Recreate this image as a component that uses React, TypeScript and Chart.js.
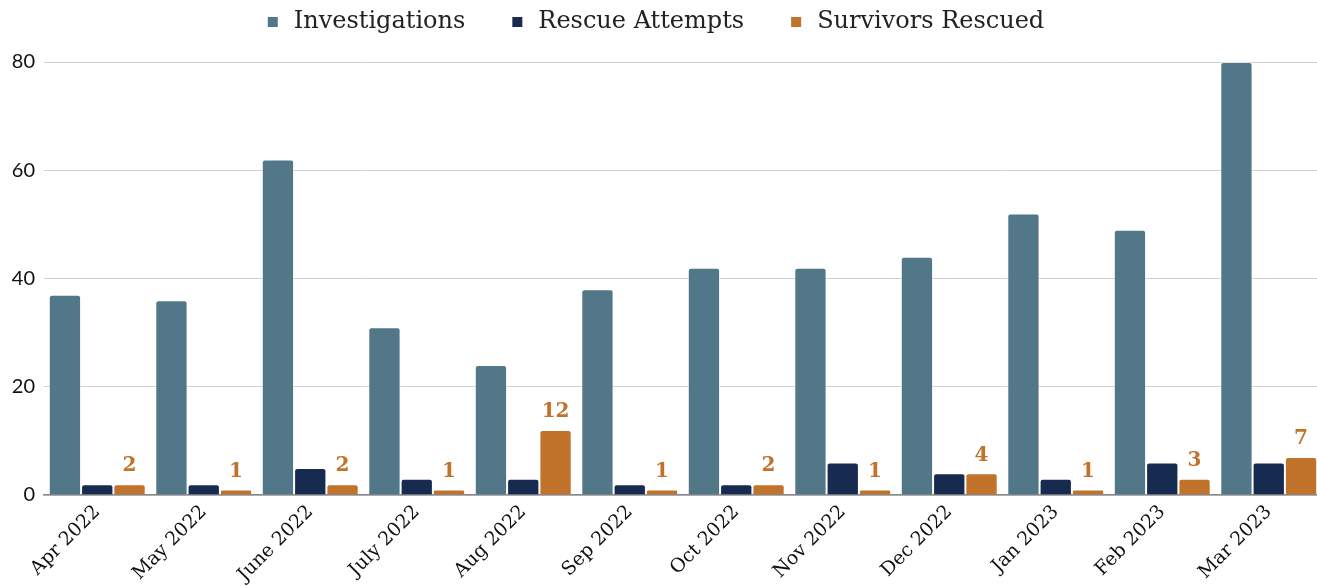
import React, { useEffect, useRef } from "react";
import { Chart, registerables } from "chart.js";
Chart.register(...registerables);

const categories = ["Apr 2022", "May 2022", "June 2022", "July 2022", "Aug 2022", "Sep 2022", "Oct 2022", "Nov 2022", "Dec 2022", "Jan 2023", "Feb 2023", "Mar 2023"];
const seriesNames = ["Investigations", "Rescue Attempts", "Survivors Rescued"];
const seriesColors = ["#527788", "#172a4f", "#c1732b"];
const investigations = [37, 36, 62, 31, 24, 38, 42, 42, 44, 52, 49, 80];
const rescueAttempts = [2, 2, 5, 3, 3, 2, 2, 6, 4, 3, 6, 6];
const survivorsRescued = [2, 1, 2, 1, 12, 1, 2, 1, 4, 1, 3, 7];
const yTicks = [0, 20, 40, 60, 80];

const SERIF = "'DejaVu Serif', serif";

const labelPlugin = {
  id: "survLabels",
  afterDatasetsDraw(chart: any) {
    const ctx = chart.ctx;
    const meta = chart.getDatasetMeta(2);
    ctx.save();
    ctx.fillStyle = "#c1732b";
    ctx.font = `bold 20px ${SERIF}`;
    ctx.textAlign = "center";
    ctx.textBaseline = "bottom";
    meta.data.forEach((el: any, i: number) => {
      ctx.fillText(String(survivorsRescued[i]), el.x, el.y - 8);
    });
    ctx.restore();
  },
};

const customLegend = {
  id: "customLegend",
  afterDraw(chart: any) {
    const ctx = chart.ctx;
    ctx.save();
    ctx.font = `24px ${SERIF}`;
    ctx.textBaseline = "middle";
    ctx.textAlign = "left";
    const box = 10, gapBox = 16, gapItem = 47;
    const widths = seriesNames.map((n) => box + gapBox + ctx.measureText(n).width);
    const total = widths.reduce((a, b) => a + b, 0) + gapItem * (seriesNames.length - 1);
    let x = 656 - total / 2;
    const y = 22;
    seriesNames.forEach((n, i) => {
      ctx.fillStyle = seriesColors[i];
      ctx.fillRect(x, y - box / 2, box, box);
      ctx.fillStyle = "#222";
      ctx.fillText(n, x + box + gapBox, y);
      x += widths[i] + gapItem;
    });
    ctx.restore();
  },
};

export default function App() {
  const ref = useRef<HTMLCanvasElement>(null);
  useEffect(() => {
    if (!ref.current) return;
    const common = { borderWidth: 1, borderColor: "rgba(255,255,255,0.5)", borderRadius: 3, borderSkipped: "bottom" as const, categoryPercentage: 0.91, barPercentage: 1 };
    const chart = new Chart(ref.current, {
      type: "bar",
      data: {
        labels: categories,
        datasets: [
          { label: seriesNames[0], data: investigations, backgroundColor: seriesColors[0], ...common },
          { label: seriesNames[1], data: rescueAttempts, backgroundColor: seriesColors[1], ...common },
          { label: seriesNames[2], data: survivorsRescued, backgroundColor: seriesColors[2], ...common },
        ],
      },
      options: {
        animation: false,
        responsive: false,
        maintainAspectRatio: false,
        layout: { padding: { top: 62, left: 0, right: 0, bottom: 0 } },
        plugins: {
          legend: { display: false },
          tooltip: { enabled: false },
        },
        scales: {
          x: {
            grid: { display: false, drawTicks: false },
            border: { display: true, color: "#888", width: 1.5 },
            ticks: { font: { family: SERIF, size: 19 }, color: "#111", maxRotation: 45, minRotation: 45, padding: 6 },
            afterFit: (axis: any) => { axis.height = 91; },
          },
          y: {
            min: 0,
            max: 80,
            afterBuildTicks: (axis: any) => { axis.ticks = yTicks.map((v) => ({ value: v })); },
            grid: { color: "#d0d0d0", drawTicks: false },
            border: { display: false },
            ticks: { font: { family: "Lato", size: 20 }, color: "#111", padding: 9 },
            afterFit: (axis: any) => { axis.width = 44; },
          },
        },
      },
      plugins: [labelPlugin, customLegend],
    });
    return () => chart.destroy();
  }, []);
  return (
    <div style={{ position: "fixed", left: 0, top: 0, width: 1322, height: 586, background: "#fff" }}>
      <canvas ref={ref} width={1322} height={586} style={{ display: "block" }} />
    </div>
  );
}
